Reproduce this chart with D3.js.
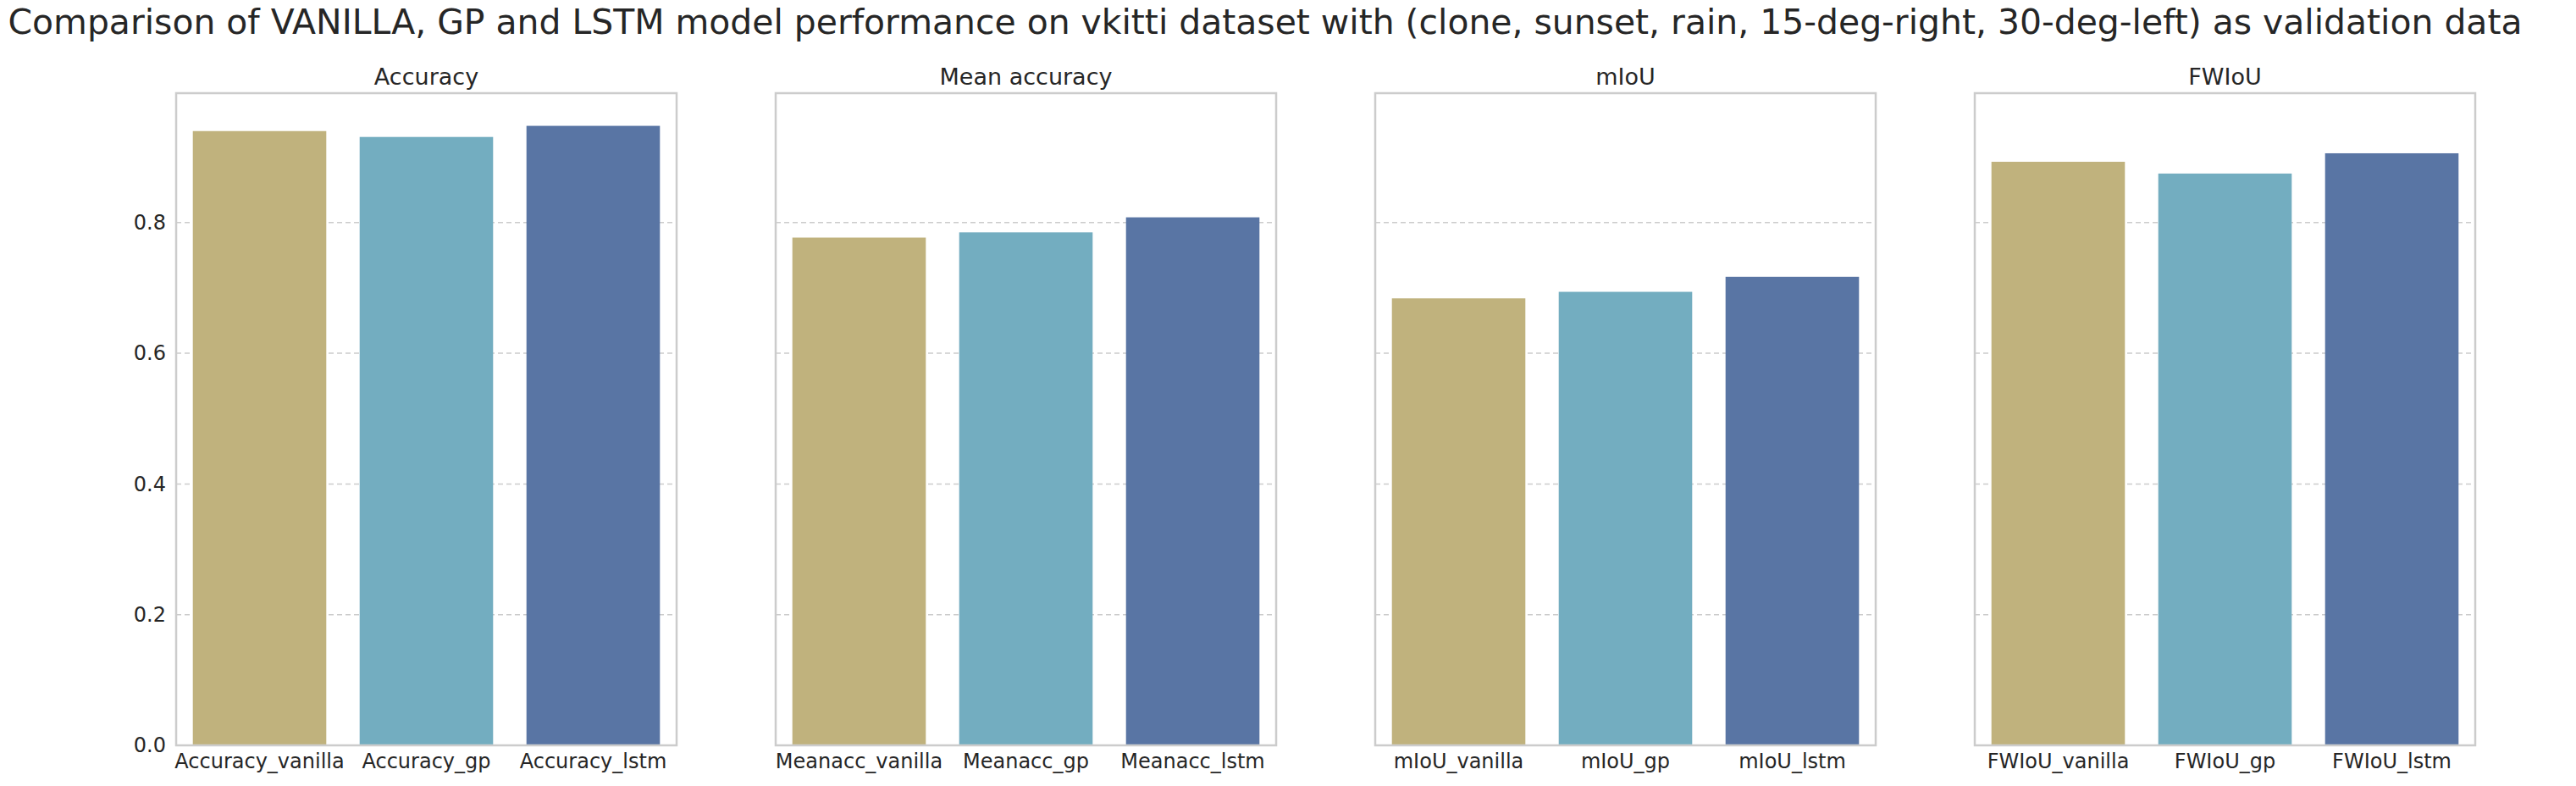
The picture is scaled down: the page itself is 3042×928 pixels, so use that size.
<!DOCTYPE html>
<html>
<head>
<meta charset="utf-8">
<script src="https://cdn.jsdelivr.net/npm/d3@7"></script>
<style>
  body { margin: 0; background: #fff; }
  text { font-family: "DejaVu Sans", sans-serif; fill: #262626; }
</style>
</head>
<body>
<div id="chart"></div>
<script>
var titles = ['Accuracy', 'Mean accuracy', 'mIoU', 'FWIoU'];
var categories = [
  ['Accuracy_vanilla', 'Accuracy_gp', 'Accuracy_lstm'],
  ['Meanacc_vanilla', 'Meanacc_gp', 'Meanacc_lstm'],
  ['mIoU_vanilla', 'mIoU_gp', 'mIoU_lstm'],
  ['FWIoU_vanilla', 'FWIoU_gp', 'FWIoU_lstm']
];
var values = [
  [0.940, 0.931, 0.948],
  [0.777, 0.785, 0.808],
  [0.684, 0.694, 0.717],
  [0.893, 0.875, 0.906]
];
var colors = ['#c0b27d', '#73adc0', '#5975a4'];
var yTicks = [0.0, 0.2, 0.4, 0.6, 0.8];

var W = 3042, H = 928;
var svg = d3.select('#chart').append('svg')
  .attr('width', W)
  .attr('height', H);

var title = svg.append('text')
  .attr('x', 1494)
  .attr('y', 40)
  .attr('text-anchor', 'middle')
  .style('font-size', '40px')
  .text('Comparison of VANILLA, GP and LSTM model performance on vkitti dataset with (clone, sunset, rain, 15-deg-right, 30-deg-left) as validation data');
// fit title to the width it has in the reference
var tw = title.node().getComputedTextLength();
title.style('font-size', (40 * 2970 / tw) + 'px');

var panelLeft = [208, 916, 1624, 2332];
var panelW = 591;
var plotTop = 110, plotBottom = 880;
var y = d3.scaleLinear().domain([0, 0.998]).range([plotBottom, plotTop]);

titles.forEach(function(t, i) {
  var g = svg.append('g').attr('transform', 'translate(' + panelLeft[i] + ',0)');
  var x = d3.scaleBand().domain(categories[i]).range([0, panelW])
    .paddingInner(0.2).paddingOuter(0.1);

  g.selectAll('line.grid').data(yTicks.slice(1))
    .enter().append('line')
    .attr('class', 'grid')
    .attr('x1', 0).attr('x2', panelW)
    .attr('y1', function(d) { return y(d); })
    .attr('y2', function(d) { return y(d); })
    .attr('stroke', '#cccccc')
    .attr('stroke-width', 1.5)
    .attr('stroke-dasharray', '6,4');

  g.selectAll('rect.bar').data(values[i])
    .enter().append('rect')
    .attr('class', 'bar')
    .attr('x', function(d, j) { return x(categories[i][j]); })
    .attr('width', x.bandwidth())
    .attr('y', function(d) { return y(d); })
    .attr('height', function(d) { return plotBottom - y(d); })
    .attr('fill', function(d, j) { return colors[j]; });

  g.append('rect')
    .attr('x', 0).attr('y', plotTop)
    .attr('width', panelW).attr('height', plotBottom - plotTop)
    .attr('fill', 'none')
    .attr('stroke', '#cccccc')
    .attr('stroke-width', 2.5);

  g.append('text')
    .attr('x', panelW / 2).attr('y', plotTop - 10)
    .attr('text-anchor', 'middle')
    .style('font-size', '27px')
    .text(t);

  var xa = g.append('g').attr('transform', 'translate(0,' + plotBottom + ')')
    .call(d3.axisBottom(x).tickSize(0).tickPadding(10));
  xa.select('.domain').remove();
  xa.selectAll('text').style('font-size', '24px').attr('fill', '#262626');

  if (i === 0) {
    var ya = g.append('g')
      .call(d3.axisLeft(y).tickValues(yTicks).tickFormat(d3.format('.1f')).tickSize(0).tickPadding(12));
    ya.select('.domain').remove();
    ya.selectAll('text').style('font-size', '24px').attr('fill', '#262626');
  }
});
</script>
</body>
</html>
